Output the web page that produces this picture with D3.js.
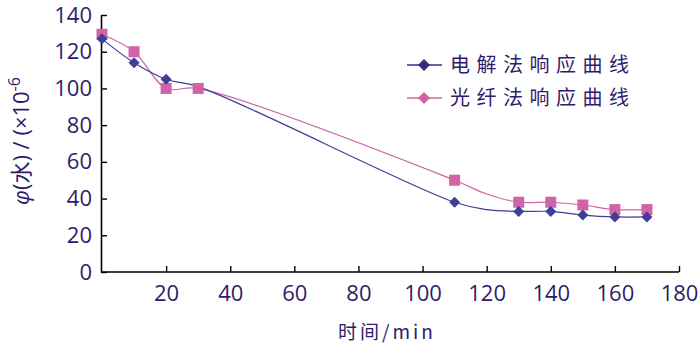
<!DOCTYPE html>
<html><head><meta charset="utf-8">
<script src="https://cdn.jsdelivr.net/npm/d3@7/dist/d3.min.js"></script>
<style>body{margin:0;background:#fff}</style>
</head><body><svg id="c" width="700" height="360"></svg>
<script>
const xTicks = [20,40,60,80,100,120,140,160,180];
const yTicks = [0,20,40,60,80,100,120,140];
const seriesNames = ["电解法响应曲线","光纤法响应曲线"];
// line paths (include unmarked points)
const elecLineX = [0,10,20,30,110,120,130,140,150,160,170];
const elecLineY = [127,114,105,101,38,34,33,33,31,30,30];
const fiberLineX = [0,10,20,30,110,120,130,140,150,160,170];
const fiberLineY = [129.5,120,100,100,50,42.5,38,38,36.5,34,34];
// marked points
const elecMarkX = [0,10,20,110,130,140,150,160,170];
const elecMarkY = [127,114,105,38,33,33,31,30,30];
const fiberMarkX = [0,10,20,30,110,130,140,150,160,170];
const fiberMarkY = [129.5,120,100,100,50,38,38,36.5,34,34];

const textC = "#2f1c6c", blueC = "#3f3f98", pinkC = "#cf64a6";
const svg = d3.select("#c");
const x = d3.scaleLinear().domain([0,180]).range([102,679]);
const y = d3.scaleLinear().domain([0,140]).range([272,15]);

const xa = svg.append("g").attr("transform","translate(0,272)")
  .call(d3.axisBottom(x).tickValues(xTicks).tickSizeInner(-6).tickSizeOuter(0).tickPadding(13));
xa.select(".domain").attr("d","M101,0H679").attr("stroke","#000").attr("stroke-width",1.6);
xa.selectAll(".tick line").attr("stroke","#000").attr("stroke-width",1.4);
xa.selectAll(".tick text").attr("fill",textC).attr("font-family","'Open Sans',sans-serif").attr("font-size",22);

const ya = svg.append("g").attr("transform","translate(101,0)")
  .call(d3.axisLeft(y).tickValues(yTicks).tickSizeInner(-6).tickSizeOuter(0).tickPadding(9));
ya.select(".domain").attr("stroke","#000").attr("stroke-width",1.6);
ya.selectAll(".tick line").attr("stroke","#000").attr("stroke-width",1.4);
ya.selectAll(".tick text").attr("fill",textC).attr("font-family","'Open Sans',sans-serif").attr("font-size",22);

const line = d3.line().x(d=>x(d[0])).y(d=>y(d[1])).curve(d3.curveCatmullRom.alpha(0.5));
svg.append("path").attr("d",line(fiberLineX.map((v,i)=>[v,fiberLineY[i]])))
  .attr("fill","none").attr("stroke",pinkC).attr("stroke-width",1.2);
svg.append("path").attr("d",line(elecLineX.map((v,i)=>[v,elecLineY[i]])))
  .attr("fill","none").attr("stroke",blueC).attr("stroke-width",1.2);

const diamond = (cx,cy,r)=>`M${cx},${cy-r}L${cx+r},${cy}L${cx},${cy+r}L${cx-r},${cy}Z`;
svg.selectAll(".sq").data(fiberMarkX.map((v,i)=>[v,fiberMarkY[i]])).enter().append("rect")
  .attr("x",d=>x(d[0])-5.5).attr("y",d=>y(d[1])-5.5).attr("width",11).attr("height",11).attr("fill",pinkC);
svg.selectAll(".dm").data(elecMarkX.map((v,i)=>[v,elecMarkY[i]])).enter().append("path")
  .attr("d",d=>diamond(x(d[0]),y(d[1]),5.5)).attr("fill",blueC);

// legend
const leg = [[seriesNames[0],"#3a2a7e",65],[seriesNames[1],pinkC,98]];
leg.forEach(([t,c,yy])=>{
  svg.append("line").attr("x1",407).attr("x2",442).attr("y1",yy).attr("y2",yy).attr("stroke",c).attr("stroke-width",1.6);
  svg.append("path").attr("d",diamond(424,yy,6)).attr("fill",c);
  svg.append("text").attr("x",450).attr("y",yy+7).attr("fill",textC)
    .attr("font-family","'Noto Sans CJK SC',sans-serif").attr("font-size",20).attr("letter-spacing",6.5).text(t);
});

// axis titles
svg.append("text").attr("x",387).attr("y",339).attr("text-anchor","middle").attr("fill",textC)
  .attr("font-family","'Noto Sans CJK SC',monospace").attr("font-size",19).attr("letter-spacing",3)
  .text("时间/min");
const yt = svg.append("text").attr("transform","translate(29,141) rotate(-90)").attr("text-anchor","middle")
  .attr("fill",textC).attr("font-family","'Open Sans','Noto Sans CJK SC',sans-serif").attr("font-size",22);
yt.append("tspan").attr("font-style","italic").text("φ");
yt.append("tspan").text("(水) / (×10");
yt.append("tspan").attr("dy",-9).attr("font-size",16).text("-6");
</script></body></html>
